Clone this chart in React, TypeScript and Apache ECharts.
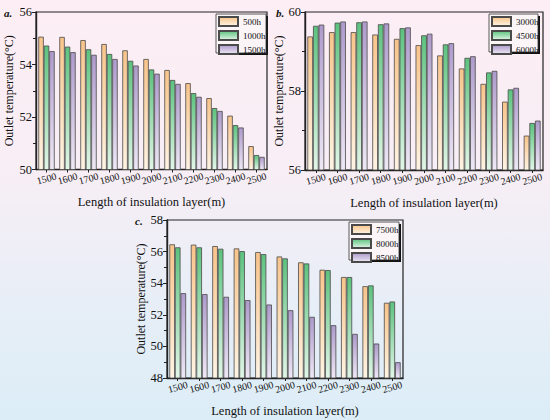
import React, { useEffect, useRef } from "react";
import * as echarts from "echarts";

const categories = ["1500", "1600", "1700", "1800", "1900", "2000", "2100", "2200", "2300", "2400", "2500"];

const namesA = ["500h", "1000h", "1500h"];
const a500 = [55.06, 55.05, 54.93, 54.78, 54.54, 54.21, 53.79, 53.29, 52.72, 52.05, 50.89];
const a1000 = [54.72, 54.68, 54.58, 54.4, 54.14, 53.81, 53.41, 52.91, 52.34, 51.69, 50.55];
const a1500 = [54.51, 54.47, 54.37, 54.21, 53.96, 53.65, 53.26, 52.77, 52.23, 51.6, 50.48];

const namesB = ["3000h", "4500h", "6000h"];
const b3000 = [59.38, 59.49, 59.49, 59.43, 59.32, 59.16, 58.9, 58.57, 58.18, 57.73, 56.87];
const b4500 = [59.65, 59.73, 59.74, 59.69, 59.59, 59.41, 59.18, 58.84, 58.47, 58.04, 57.19];
const b6000 = [59.68, 59.76, 59.76, 59.71, 59.61, 59.45, 59.21, 58.88, 58.51, 58.08, 57.25];

const namesC = ["7500h", "8000h", "8500h"];
const c7500 = [56.46, 56.44, 56.35, 56.2, 55.97, 55.69, 55.32, 54.85, 54.39, 53.81, 52.76];
const c8000 = [56.27, 56.27, 56.18, 56.03, 55.84, 55.57, 55.25, 54.83, 54.39, 53.86, 52.84];
const c8500 = [53.37, 53.31, 53.14, 52.93, 52.65, 52.29, 51.87, 51.34, 50.79, 50.18, 49.0];

const yRangeA = [50, 56];
const yRangeB = [56, 60];
const yRangeC = [48, 58];

const xTitle = "Length of insulation layer(m)";
const yTitle = "Outlet temperature(°C)";
const panelLetters = ["a.", "b.", "c."];

const FONT = "Liberation Serif";

const palette = [
  ["#F8C48A", "#FEF4E4"],
  ["#5CC27E", "#E2F6E8"],
  ["#AD9ACB", "#EEE8F5"],
];

function grad(i: number) {
  return new echarts.graphic.LinearGradient(0, 0, 0, 1, [
    { offset: 0, color: palette[i][0] },
    { offset: 1, color: palette[i][1] },
  ]);
}

export default function App() {
  const ref = useRef<HTMLDivElement>(null);
  useEffect(() => {
    if (!ref.current) return;
    const chart = echarts.init(ref.current, undefined, { renderer: "svg" });

    const grids = [
      { left: 36, top: 12, width: 231, height: 157.5 },
      { left: 305, top: 12, width: 238, height: 158 },
      { left: 167, top: 220, width: 236, height: 158 },
    ];
    const ranges = [yRangeA, yRangeB, yRangeC];
    const nameGaps = [21, 18, 19];
    const legendPos = [
      { x: 216, y: 14, w: 50, h: 39 },
      { x: 489, y: 14, w: 49, h: 38 },
      { x: 349, y: 222, w: 50, h: 38 },
    ];
    const panelNames = [namesA, namesB, namesC];
    const panelData = [
      [a500, a1000, a1500],
      [b3000, b4500, b6000],
      [c7500, c8000, c8500],
    ];

    const xAxis = grids.map((_, i) => ({
      type: "category",
      gridIndex: i,
      data: categories,
      boundaryGap: true,
      name: xTitle,
      nameLocation: "middle",
      nameGap: 26,
      nameTextStyle: { fontFamily: FONT, fontSize: 12.5, color: "#111" },
      axisLine: { lineStyle: { color: "#222", width: 1.4 } },
      axisTick: { show: true, alignWithLabel: true, length: 3, lineStyle: { color: "#222" } },
      axisLabel: {
        rotate: 15,
        align: "center",
        verticalAlign: "middle",
        margin: 9,
        interval: 0,
        fontFamily: FONT,
        fontSize: 10,
        color: "#111",
      },
    }));

    const yAxis = grids.map((_, i) => ({
      type: "value",
      gridIndex: i,
      min: ranges[i][0],
      max: ranges[i][1],
      interval: 2,
      name: yTitle,
      nameLocation: "middle",
      nameGap: nameGaps[i],
      nameTextStyle: { fontFamily: FONT, fontSize: 12, color: "#111" },
      axisLine: { show: true, lineStyle: { color: "#222", width: 1.4 } },
      axisTick: { show: true, length: 4, lineStyle: { color: "#222" } },
      minorTick: { show: true, splitNumber: 2, length: 3, lineStyle: { color: "#222" } },
      splitLine: { show: false },
      axisLabel: { fontFamily: FONT, fontSize: 12.5, color: "#111", margin: 4 },
    }));

    const series: any[] = [];
    panelNames.forEach((names, p) => {
      names.forEach((n, k) => {
        series.push({
          type: "bar",
          name: n,
          xAxisIndex: p,
          yAxisIndex: p,
          data: panelData[p][k],
          barGap: "0%",
          barCategoryGap: "22%",
          itemStyle: { color: grad(k), borderColor: "#4a4a4a", borderWidth: 0.8 },
        });
      });
    });

    const legend = legendPos.map((L, p) => ({
      data: panelNames[p],
      orient: "vertical",
      left: L.x + 2,
      top: L.y + 2,
      padding: 0,
      itemGap: 3,
      itemWidth: 19,
      itemHeight: 9,
      icon: "rect",
      z: 20,
      textStyle: { fontFamily: FONT, fontSize: 9, color: "#111" },
    }));

    const graphic: any[] = [];
    legendPos.forEach((L) => {
      graphic.push({
        type: "rect",
        shape: { x: L.x + 2, y: L.y + 2, width: L.w, height: L.h },
        style: { fill: "#111" },
        z: -2,
      });
      graphic.push({
        type: "rect",
        shape: { x: L.x, y: L.y, width: L.w, height: L.h },
        style: { fill: "#FBF5F8", stroke: "#333", lineWidth: 0.8 },
        z: -1,
      });
    });
    const letterPos = [
      { x: 4, y: 7 },
      { x: 276, y: 7 },
      { x: 135, y: 215 },
    ];
    letterPos.forEach((pt, i) => {
      graphic.push({
        type: "text",
        left: pt.x,
        top: pt.y,
        style: {
          text: panelLetters[i],
          fontFamily: FONT,
          fontSize: 11,
          fontStyle: "italic",
          fontWeight: "bold",
          fill: "#111",
        },
        z: 3,
      });
    });

    chart.setOption({
      animation: false,
      backgroundColor: "transparent",
      grid: grids.map((g) => ({
        ...g,
        show: true,
        borderColor: "#222",
        borderWidth: 1.2,
        backgroundColor: "transparent",
        containLabel: false,
      })),
      xAxis,
      yAxis,
      legend,
      series,
      graphic,
    } as any);

    return () => chart.dispose();
  }, []);

  return (
    <div
      style={{
        position: "absolute",
        left: 0,
        top: 0,
        width: 550,
        height: 420,
        background: "linear-gradient(180deg, #FCEEF4 0%, #F8EEF5 40%, #E6EEF7 75%, #DCEDF7 100%)",
      }}
    >
      <div ref={ref} style={{ width: 550, height: 420 }} />
    </div>
  );
}
